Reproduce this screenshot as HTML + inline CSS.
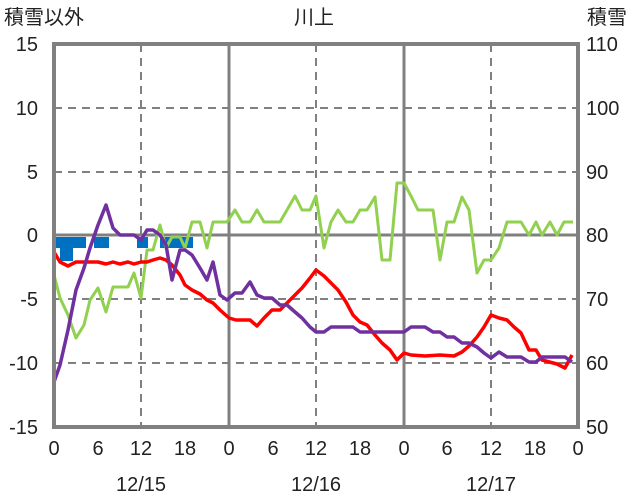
<!DOCTYPE html><html><head><meta charset="utf-8"><style>body{margin:0;background:#fff}svg{display:block}text{font-family:"Liberation Sans","Noto Sans CJK JP",sans-serif;fill:#222;font-size:20px}</style></head><body>
<svg width="636" height="501" viewBox="0 0 636 501">
<g stroke="#808080" stroke-width="2" stroke-dasharray="8,6" fill="none">
<line x1="54" y1="108" x2="578" y2="108"/><line x1="54" y1="172" x2="578" y2="172"/><line x1="54" y1="299" x2="578" y2="299"/><line x1="54" y1="363" x2="578" y2="363"/>
<line x1="141" y1="44" x2="141" y2="427"/><line x1="316" y1="44" x2="316" y2="427"/><line x1="491" y1="44" x2="491" y2="427"/>
</g>
<g stroke="#808080" stroke-width="3"><line x1="229" y1="44" x2="229" y2="427"/><line x1="404" y1="44" x2="404" y2="427"/><line x1="54" y1="235" x2="578" y2="235"/></g>
<g fill="#0070C0"><rect x="54" y="237" width="32" height="11"/><rect x="60" y="237" width="13" height="24"/><rect x="94" y="237" width="15" height="11"/><rect x="137" y="237" width="11" height="11"/><rect x="160" y="237" width="33" height="11"/></g>
<g fill="none" stroke-width="3.5" stroke-linejoin="round">
<polyline stroke="#92D050" stroke-width="3" points="54,275 60,298 68,315 76,338 84,325 90,300 98,288 106,312 113,287 120,287 128,287 134,273 141,298 147,250 153,250 160,225 166,248 172,237 180,237 185,248 192,222 200,222 207,248 213,222 220,222 227,222 235,210 242,222 250,222 257,210 264,222 272,222 280,222 287,210 295,196 302,210 310,210 316,196 324,248 331,222 338,210 346,222 353,222 360,210 367,210 375,197 382,260 390,260 397,183 404,183 411,196 418,210 425,210 433,210 440,260 447,222 454,222 462,197 469,210 477,273 484,260 491,260 499,248 507,222 514,222 521,222 529,235 536,222 542,235 550,222 557,235 564,222 573,222"/>
<polyline stroke="#FF0000" points="54,252 60,262 68,266 76,262 90,262 98,262 106,264 113,262 120,264 128,262 134,264 141,262 147,262 153,260 160,258 166,260 172,265 180,275 185,285 192,290 200,294 207,300 213,303 220,310 229,318 236,320 250,320 257,326 264,318 272,310 280,310 287,303 295,295 302,288 310,278 316,270 324,276 331,283 338,290 346,302 353,315 360,322 367,325 375,335 382,343 390,350 397,360 404,353 411,355 425,356 440,355 454,356 462,352 469,346 477,337 484,327 491,315 499,318 507,320 514,327 521,333 529,350 536,350 542,360 557,364 565,368 572,355"/>
<polyline stroke="#7030A0" points="54,382 60,365 68,330 76,290 84,268 90,248 98,225 106,205 113,228 120,235 134,235 141,240 147,230 153,230 160,235 166,245 172,280 180,250 185,250 192,255 200,268 207,280 213,262 220,295 227,300 235,293 242,293 250,282 257,295 264,298 272,298 280,305 287,305 295,312 302,318 310,327 316,332 324,332 331,327 353,327 360,332 404,332 411,327 425,327 433,332 440,332 447,337 454,337 462,343 469,343 477,347 484,353 491,358 499,352 507,357 521,357 529,362 536,362 542,357 565,357 572,362"/>
</g>
<rect x="54" y="44" width="524" height="383" fill="none" stroke="#808080" stroke-width="4"/>
<text x="4" y="24" font-size="18">積雪以外</text><text x="314" y="24" text-anchor="middle" font-size="18">川上</text><text x="587" y="24" font-size="18">積雪</text>
<g text-anchor="end"><text x="38" y="51">15</text><text x="38" y="115">10</text><text x="38" y="179">5</text><text x="38" y="242">0</text><text x="38" y="306">-5</text><text x="38" y="370">-10</text><text x="38" y="434">-15</text></g>
<g text-anchor="start"><text x="586" y="51">110</text><text x="586" y="115">100</text><text x="586" y="179">90</text><text x="586" y="242">80</text><text x="586" y="306">70</text><text x="586" y="370">60</text><text x="586" y="434">50</text></g>
<g text-anchor="middle"><text x="54" y="455">0</text><text x="98" y="455">6</text><text x="141" y="455">12</text><text x="185" y="455">18</text><text x="229" y="455">0</text><text x="273" y="455">6</text><text x="316" y="455">12</text><text x="360" y="455">18</text><text x="404" y="455">0</text><text x="447" y="455">6</text><text x="491" y="455">12</text><text x="535" y="455">18</text><text x="578" y="455">0</text>
<text x="141" y="491">12/15</text><text x="316" y="491">12/16</text><text x="491" y="491">12/17</text></g>
</svg></body></html>
